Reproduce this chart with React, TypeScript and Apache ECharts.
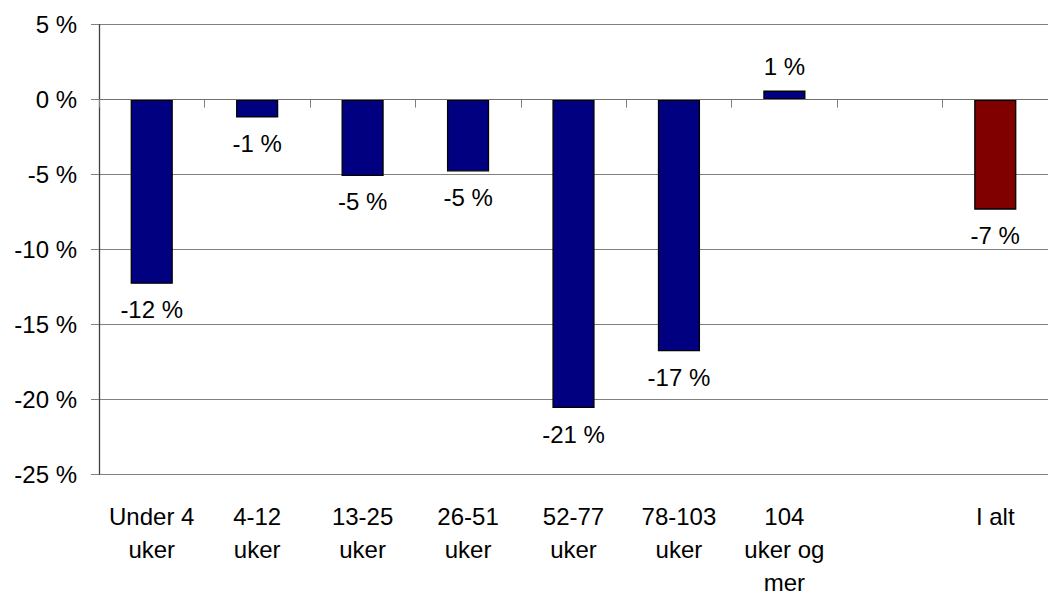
import React, { useEffect, useRef } from "react";
import * as echarts from "echarts";

const categories = [
  "Under 4\nuker",
  "4-12\nuker",
  "13-25\nuker",
  "26-51\nuker",
  "52-77\nuker",
  "78-103\nuker",
  "104\nuker og\nmer",
  "",
  "I alt",
];
const values: (number | null)[] = [-12.3, -1.2, -5.1, -4.8, -20.6, -16.8, 0.6, null, -7.35];
const barColors = ["#000080", "#000080", "#000080", "#000080", "#000080", "#000080", "#000080", "#000080", "#800000"];
const yTicks = { min: -25, max: 5, interval: 5 };

const FONT = "'Liberation Sans', Arial, sans-serif";

export default function App() {
  const ref = useRef<HTMLDivElement>(null);
  useEffect(() => {
    if (!ref.current) return;
    const chart = echarts.init(ref.current, undefined, { renderer: "svg" });
    const data = values.map((v, i) =>
      v === null
        ? "-"
        : {
            value: v,
            itemStyle: { color: barColors[i] },
            label: {
              position: v < 0 ? "bottom" : "top",
              distance: v < 0 ? 14 : 12,
            },
          }
    );
    chart.setOption({
      animation: false,
      backgroundColor: "#ffffff",
      grid: { left: 99, right: -9.5, top: 24.7, bottom: 117.3 },
      xAxis: [
        {
          type: "category",
          data: categories,
          boundaryGap: true,
          axisLine: { onZero: true, lineStyle: { color: "#6f6f6f", width: 1.2 } },
          axisTick: { show: true, length: 8, inside: false, alignWithLabel: false, lineStyle: { color: "#808080" } },
          axisLabel: { show: false },
          splitLine: { show: false },
          z: 10,
        },
        {
          type: "category",
          data: categories,
          position: "bottom",
          axisLine: { show: false, onZero: false },
          axisTick: { show: false },
          axisLabel: {
            show: true,
            interval: 0,
            margin: 26,
            color: "#000",
            fontSize: 24,
            lineHeight: 33,
            fontFamily: FONT,
            align: "center",
          },
        },
      ],
      yAxis: {
        type: "value",
        min: yTicks.min,
        max: yTicks.max,
        interval: yTicks.interval,
        axisLine: { show: true, lineStyle: { color: "#404040", width: 1.3 } },
        axisTick: { show: true, length: 8, inside: false, lineStyle: { color: "#808080" } },
        axisLabel: {
          margin: 22,
          color: "#000",
          fontSize: 24,
          fontFamily: FONT,
          formatter: (v: number) => `${v} %`,
        },
        splitLine: { show: true, lineStyle: { color: "#808080", width: 1.2 } },
      },
      series: [
        {
          type: "bar",
          xAxisIndex: 0,
          data,
          barWidth: "40%",
          itemStyle: { borderColor: "#000", borderWidth: 1.3 },
          label: {
            show: true,
            color: "#000",
            fontSize: 24,
            fontFamily: FONT,
            formatter: (p: any) => `${Math.round(p.value)} %`,
          },
        },
      ],
    });
    return () => chart.dispose();
  }, []);
  return <div ref={ref} style={{ width: 1048, height: 599, position: "absolute", left: 0, top: 0 }} />;
}
